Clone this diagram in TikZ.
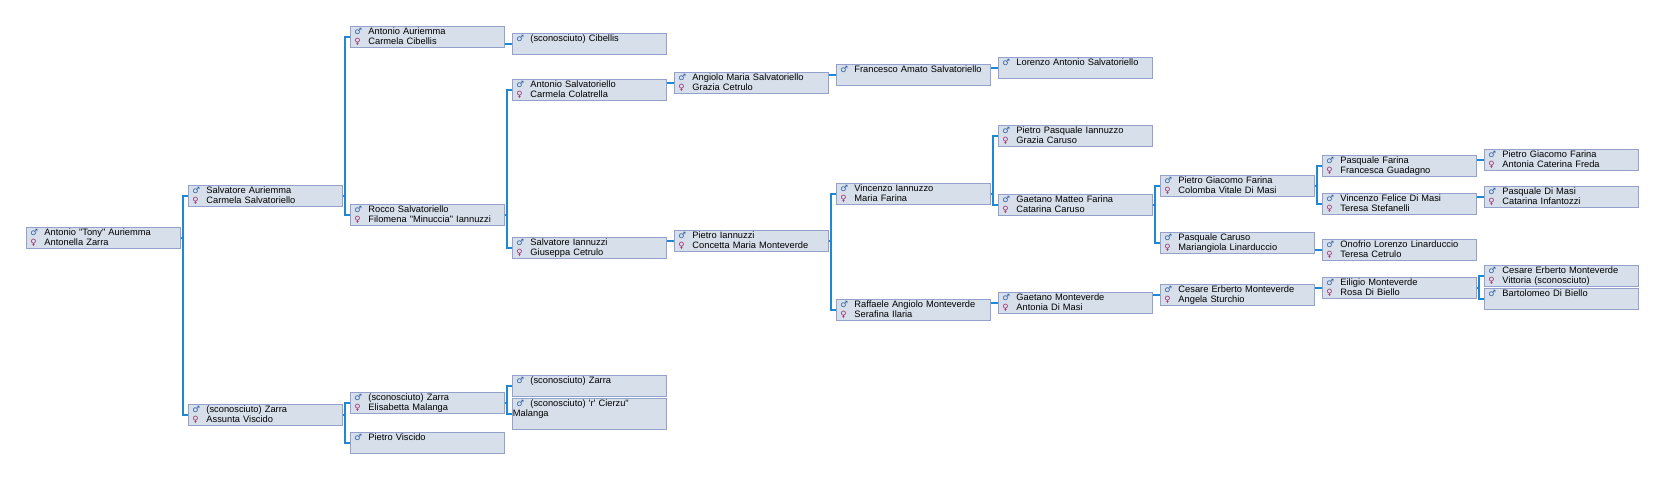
\documentclass[tikz,border=0pt]{standalone}
\usepackage{fontspec}
\newfontfamily\nfnt{Liberation Sans}
\newfontfamily\symfnt{DejaVu Sans}
\definecolor{boxfill}{HTML}{D6DFEA}
\definecolor{boxline}{HTML}{93A1CC}
\definecolor{malec}{HTML}{2F5E9E}
\definecolor{femc}{HTML}{9B2F6E}
\definecolor{connc}{HTML}{1E88D2}
\newcommand\lsx{\rule[-2.5pt]{0pt}{7.6pt}}
\newcommand\pM[1]{\lsx\makebox[14pt][l]{\color{malec}\symfnt\fontsize{8.6}{10}\selectfont ♂}#1}
\newcommand\pF[1]{\lsx\makebox[14pt][l]{\color{femc}\symfnt\fontsize{8.6}{10}\selectfont ♀}#1}
\begin{document}
\begin{tikzpicture}[x=1pt,y=-1pt,
  box/.style={draw=boxline, fill=boxfill, line width=0.9pt, anchor=north west,
    minimum width=154pt, minimum height=21pt, text width=146pt,
    inner xsep=4pt, inner ysep=0pt, align=left,
    font=\nfnt\fontsize{9.3}{10}\selectfont},
  conn/.style={draw=connc, line width=1.6pt}]
\useasboundingbox[fill=white] (0,0) rectangle (1664,480);
% generation 0
\node[box] (n0) at (26,227) {\pM{Antonio "Tony" Auriemma}\\\pF{Antonella Zarra}};
% generation 1
\node[box] (sa) at (188,185) {\pM{Salvatore Auriemma}\\\pF{Carmela Salvatoriello}};
\node[box] (za) at (188,404) {\pM{(sconosciuto) Zarra}\\\pF{Assunta Viscido}};
% generation 2
\node[box] (aa) at (350,26) {\pM{Antonio Auriemma}\\\pF{Carmela Cibellis}};
\node[box] (rs) at (350,204) {\pM{Rocco Salvatoriello}\\\pF{Filomena "Minuccia" Iannuzzi}};
\node[box] (ze) at (350,392) {\pM{(sconosciuto) Zarra}\\\pF{Elisabetta Malanga}};
\node[box] (pv) at (350,432) {\pM{Pietro Viscido}\\\lsx};
% generation 3
\node[box] (sc) at (512,33) {\pM{(sconosciuto) Cibellis}\\\lsx};
\node[box] (as) at (512,79) {\pM{Antonio Salvatoriello}\\\pF{Carmela Colatrella}};
\node[box] (si) at (512,237) {\pM{Salvatore Iannuzzi}\\\pF{Giuseppa Cetrulo}};
\node[box] (sz) at (512,375) {\pM{(sconosciuto) Zarra}\\\lsx};
\node[box, minimum height=31pt] (cm) at (512,398) {\pM{(sconosciuto) 'r' Cierzu"}\\\lsx\hspace*{-3.5pt}Malanga\\\lsx};
% generation 4
\node[box] (am) at (674,72) {\pM{Angiolo Maria Salvatoriello}\\\pF{Grazia Cetrulo}};
\node[box] (pi) at (674,230) {\pM{Pietro Iannuzzi}\\\pF{Concetta Maria Monteverde}};
% generation 5
\node[box] (fa) at (836,64) {\pM{Francesco Amato Salvatoriello}\\\lsx};
\node[box] (vi) at (836,183) {\pM{Vincenzo Iannuzzo}\\\pF{Maria Farina}};
\node[box] (ra) at (836,299) {\pM{Raffaele Angiolo Monteverde}\\\pF{Serafina Ilaria}};
% generation 6
\node[box] (la) at (998,57) {\pM{Lorenzo Antonio Salvatoriello}\\\lsx};
\node[box] (pp) at (998,125) {\pM{Pietro Pasquale Iannuzzo}\\\pF{Grazia Caruso}};
\node[box] (gm) at (998,194) {\pM{Gaetano Matteo Farina}\\\pF{Catarina Caruso}};
\node[box] (gmo) at (998,292) {\pM{Gaetano Monteverde}\\\pF{Antonia Di Masi}};
% generation 7
\node[box] (pg) at (1160,175) {\pM{Pietro Giacomo Farina}\\\pF{Colomba Vitale Di Masi}};
\node[box] (pc) at (1160,232) {\pM{Pasquale Caruso}\\\pF{Mariangiola Linarduccio}};
\node[box] (ce) at (1160,284) {\pM{Cesare Erberto Monteverde}\\\pF{Angela Sturchio}};
% generation 8
\node[box] (pf) at (1322,155) {\pM{Pasquale Farina}\\\pF{Francesca Guadagno}};
\node[box] (vf) at (1322,193) {\pM{Vincenzo Felice Di Masi}\\\pF{Teresa Stefanelli}};
\node[box] (ol) at (1322,239) {\pM{Onofrio Lorenzo Linarduccio}\\\pF{Teresa Cetrulo}};
\node[box] (em) at (1322,277) {\pM{Eiligio Monteverde}\\\pF{Rosa Di Biello}};
% generation 9
\node[box] (pg9) at (1484,149) {\pM{Pietro Giacomo Farina}\\\pF{Antonia Caterina Freda}};
\node[box] (pd) at (1484,186) {\pM{Pasquale Di Masi}\\\pF{Catarina Infantozzi}};
\node[box] (ce9) at (1484,265) {\pM{Cesare Erberto Monteverde}\\\pF{Vittoria (sconosciuto)}};
\node[box] (bd) at (1484,288) {\pM{Bartolomeo Di Biello}\\\lsx};
% two-parent connectors
\foreach \c/\p/\q in {n0/sa/za, sa/aa/rs, za/ze/pv, rs/as/si, ze/sz/cm,
                      pi/vi/ra, vi/pp/gm, gm/pg/pc, pg/pf/vf, em/ce9/bd}{
  \draw[conn] (\c.east) -- ++(2,0) |- (\p.west);
  \draw[conn] (\c.east) -- ++(2,0) |- (\q.west);
}
% single connectors
\foreach \c/\p in {aa/sc, as/am, am/fa, fa/la, si/pi, ra/gmo, gmo/ce, ce/em, pc/ol, pf/pg9, vf/pd}{
  \draw[conn] (\c.east |- \p.west) -- (\p.west);
}
\end{tikzpicture}
\end{document}
